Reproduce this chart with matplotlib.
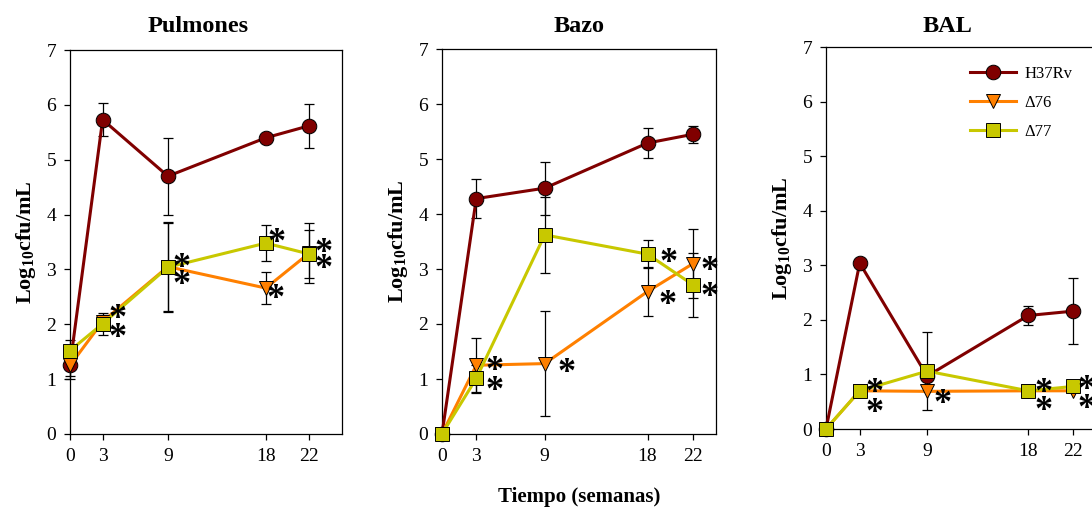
import matplotlib
matplotlib.use("Agg")
import matplotlib.pyplot as plt
import numpy as np

plt.rcParams['font.family'] = ['Liberation Serif', 'DejaVu Serif']
plt.rcParams['mathtext.fontset'] = 'custom'
plt.rcParams['mathtext.rm'] = 'Liberation Serif'
plt.rcParams['mathtext.bf'] = 'Liberation Serif:bold'

# ---------------- data ----------------
weeks = [0, 3, 9, 18, 22]
week_labels = ["0", "3", "9", "18", "22"]
panels = ["Pulmones", "Bazo", "BAL"]
series_names = ["H37Rv", "\u039476", "\u039477"]

# Pulmones
pul_h37 = [1.25, 5.73, 4.70, 5.40, 5.62]
pul_h37_err = [0.25, 0.30, 0.70, 0.05, 0.40]
pul_d76 = [1.25, 2.05, 3.05, 2.66, 3.30]
pul_d76_err = [0.20, 0.12, 0.80, 0.29, 0.54]
pul_d77 = [1.52, 2.01, 3.04, 3.48, 3.28]
pul_d77_err = [0.20, 0.20, 0.82, 0.33, 0.44]

# Bazo
baz_h37 = [0.0, 4.28, 4.47, 5.29, 5.45]
baz_h37_err = [0.0, 0.36, 0.48, 0.28, 0.15]
baz_d76 = [0.0, 1.25, 1.28, 2.59, 3.10]
baz_d76_err = [0.0, 0.50, 0.96, 0.45, 0.62]
baz_d77 = [0.0, 1.01, 3.62, 3.27, 2.71]
baz_d77_err = [0.0, 0.25, 0.69, 0.25, 0.59]

# BAL
bal_h37 = [0.0, 3.04, 0.97, 2.08, 2.16]
bal_h37_err = [0.0, 0.0, 0.0, 0.18, 0.60]
bal_d76 = [0.0, 0.70, 0.69, 0.70, 0.70]
bal_d76_err = [0.0, 0.0, 0.0, 0.0, 0.0]
bal_d77 = [0.0, 0.70, 1.06, 0.70, 0.78]
bal_d77_err = [0.0, 0.0, 0.72, 0.0, 0.08]

# significance stars: (series index 1=D76, 2=D77, week index, dx pt, dy pt)
pul_stars = [(2, 1, 10.4, 7.7), (2, 1, 10.4, -6.0), (2, 2, 9.6, 4.0), (2, 2, 9.6, -8.0),
             (2, 3, 8.0, 4.6), (1, 3, 6.8, -3.7), (2, 4, 10.3, 5.3), (2, 4, 10.3, -6.6)]
baz_stars = [(1, 1, 13.5, 0.0), (2, 1, 13.5, -4.7), (1, 2, 15.8, -2.2), (2, 3, 14.9, -1.8),
             (1, 3, 14.2, -4.9), (1, 4, 12.1, -0.6), (2, 4, 12.1, -4.4)]
bal_stars = [(2, 1, 11.0, 3.0), (2, 1, 11.0, -11.4), (1, 2, 11.3, -5.0), (2, 3, 11.0, 3.0),
             (2, 3, 11.0, -10.3), (2, 4, 9.9, 1.6), (2, 4, 9.9, -11.7)]

data = [
    ([pul_h37, pul_d76, pul_d77], [pul_h37_err, pul_d76_err, pul_d77_err], pul_stars),
    ([baz_h37, baz_d76, baz_d77], [baz_h37_err, baz_d76_err, baz_d77_err], baz_stars),
    ([bal_h37, bal_d76, bal_d77], [bal_h37_err, bal_d76_err, bal_d77_err], bal_stars),
]

colors = ["#800000", "#FF8000", "#C8C800"]
markers = ["o", "v", "s"]
msizes = [10.5, 10.5, 9.5]
star_size = 26
star_raise = 0.42 * star_size  # visual centre of the asterisk above baseline

W, H = 1092, 511
fig = plt.figure(figsize=(W / 100, H / 100), dpi=100)

# axes boxes in pixels: left, top, right, bottom
boxes = [(70, 50, 342, 434), (442, 49, 716, 434), (826, 47, 1107, 429)]
xlims = [25, 24, 25]
title_x = [0.47, 0.5, 0.434]
title_pad = [13, 12.5, 11]

for i, (vals, errs, stars) in enumerate(data):
    l, t, r, b = boxes[i]
    ax = fig.add_axes([l / W, 1 - b / H, (r - l) / W, (b - t) / H])
    ax.set_xlim(0, xlims[i])
    ax.set_ylim(0, 7)
    for k in range(3):
        ax.errorbar(weeks, vals[k], yerr=errs[k], fmt="none", ecolor="black",
                    elinewidth=0.9, capsize=3.8, capthick=0.9, zorder=2, clip_on=False)
    for k in range(3):
        ax.plot(weeks, vals[k], color=colors[k], lw=2.2, marker=markers[k],
                ms=msizes[k], mfc=colors[k], mec="black", mew=0.7,
                label=series_names[k], zorder=3 + k * 0.1, clip_on=False)
    for (s, wi, dx, dy) in stars:
        ax.annotate("*", xy=(weeks[wi], vals[s][wi]), xytext=(dx, dy - star_raise),
                    textcoords="offset points", ha="center", va="baseline",
                    fontsize=star_size, fontweight="bold", zorder=6,
                    annotation_clip=False, fontfamily="Liberation Serif")
    ax.set_xticks(weeks)
    ax.set_xticklabels(week_labels)
    ax.set_yticks(range(0, 8))
    ax.tick_params(direction="out", length=4, width=0.9, labelsize=14, pad=6)
    for sp in ax.spines.values():
        sp.set_linewidth(0.9)
    ax.set_title(panels[i], fontsize=17.5, fontweight="bold", x=title_x[i], pad=title_pad[i])
    ax.set_ylabel(r"$\mathbf{Log_{10}cfu/mL}$", fontsize=16, labelpad=6)
    if i == 1:
        ax.set_xlabel("Tiempo (semanas)", fontsize=15, fontweight="bold", labelpad=16)
    if i == 2:
        ax.legend(loc="upper left", bbox_to_anchor=(0.47, 0.98), frameon=False,
                  fontsize=12, handlelength=2.8, labelspacing=0.78,
                  handletextpad=0.5, borderaxespad=0.3)

fig.savefig("out.png", dpi=100)
